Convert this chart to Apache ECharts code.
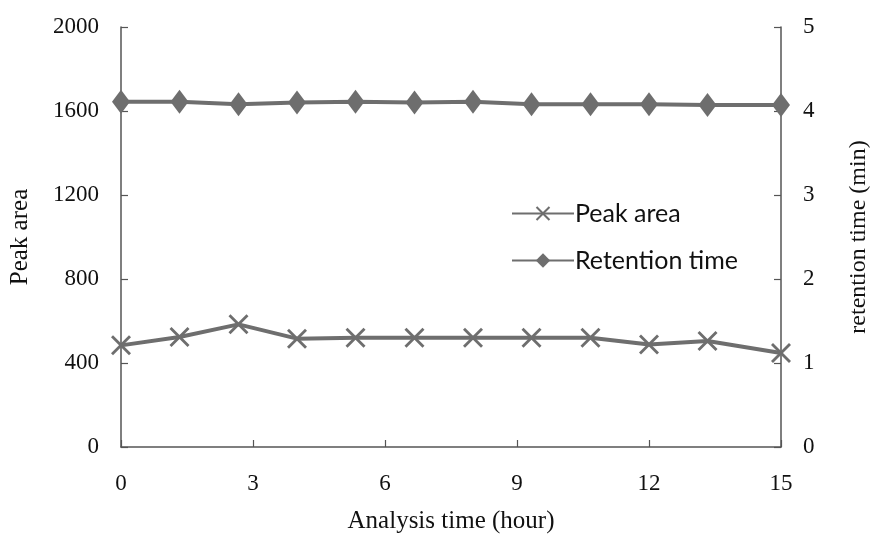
<!DOCTYPE html>
<html>
<head>
<meta charset="utf-8">
<script src="https://cdn.jsdelivr.net/npm/echarts@6/dist/echarts.min.js"></script>
<style>html,body{margin:0;padding:0;background:#fff}#c{width:877px;height:536px}</style>
</head>
<body>
<div id="c"></div>
<script>
const times = [0, 1.33, 2.67, 4, 5.33, 6.67, 8, 9.33, 10.67, 12, 13.33, 15];
const peakArea = [484, 524, 584, 516, 520, 520, 520, 520, 520, 488, 505, 448];
const retentionTime = [4.11, 4.11, 4.08, 4.10, 4.11, 4.10, 4.11, 4.08, 4.08, 4.08, 4.07, 4.07];
const xTicks = [0, 3, 6, 9, 12, 15];

const chart = echarts.init(document.getElementById('c'), null, {renderer: 'canvas'});
const serif = '"Liberation Serif", "DejaVu Serif", serif';
const axisColor = '#555';
const textColor = '#111';
const lineColor = '#6e6e6e';
const xSym = 'path://M0,1 L1,0 L5,4 L9,0 L10,1 L6,5 L10,9 L9,10 L5,6 L1,10 L0,9 L4,5 Z';

chart.setOption({
  animation: false,
  backgroundColor: '#fff',
  grid: {left: 121, right: 96, top: 27, bottom: 89, containLabel: false, outerBoundsMode: 'none'},
  legend: {
    left: 506, top: 196, orient: 'vertical', itemGap: 22,
    itemWidth: 62, itemHeight: 18,
    textStyle: {fontFamily: 'Lato, "Open Sans", sans-serif', fontSize: 25, color: textColor, padding: [0,0,0,-4]},
    data: ['Peak area', 'Retention time']
  },
  xAxis: {
    type: 'value', min: 0, max: 15, interval: 3,
    name: 'Analysis time (hour)', nameLocation: 'middle', nameGap: 62,
    nameTextStyle: {fontFamily: serif, fontSize: 25, color: textColor},
    axisLine: {show: true, lineStyle: {color: axisColor, width: 1.5}},
    axisTick: {show: true, inside: true, length: 7, lineStyle: {color: axisColor, width: 1.2}},
    axisLabel: {fontFamily: serif, fontSize: 23, color: textColor, margin: 25,
      formatter: v => xTicks.includes(v) ? String(v) : ''},
    splitLine: {show: false}
  },
  yAxis: [{
    type: 'value', min: 0, max: 2000, interval: 400,
    name: 'Peak area', nameLocation: 'middle', nameGap: 88, nameRotate: 90,
    nameTextStyle: {fontFamily: serif, fontSize: 25, color: textColor},
    axisLine: {show: true, lineStyle: {color: axisColor, width: 1.5}},
    axisTick: {show: true, inside: true, length: 7, lineStyle: {color: axisColor, width: 1.2}},
    axisLabel: {fontFamily: serif, fontSize: 23, color: textColor, margin: 22, formatter: v => String(v)},
    splitLine: {show: false}
  }, {
    type: 'value', min: 0, max: 5, interval: 1, position: 'right',
    name: 'retention time (min)', nameLocation: 'middle', nameGap: 66, nameRotate: 90,
    nameTextStyle: {fontFamily: serif, fontSize: 24, color: textColor},
    axisLine: {show: true, lineStyle: {color: axisColor, width: 1.5}},
    axisTick: {show: true, inside: true, length: 7, lineStyle: {color: axisColor, width: 1.2}},
    axisLabel: {fontFamily: serif, fontSize: 23, color: textColor, margin: 22, formatter: v => String(v)},
    splitLine: {show: false}
  }],
  series: [{
    name: 'Peak area', type: 'line', yAxisIndex: 0,
    data: times.map((t, i) => [t, peakArea[i]]),
    symbol: xSym, symbolSize: 20,
    lineStyle: {color: lineColor, width: 4},
    itemStyle: {color: lineColor}
  }, {
    name: 'Retention time', type: 'line', yAxisIndex: 1,
    data: times.map((t, i) => [t, retentionTime[i]]),
    symbol: 'diamond', symbolSize: [18, 24],
    lineStyle: {color: lineColor, width: 4},
    itemStyle: {color: lineColor}
  }]
});
</script>
</body>
</html>
